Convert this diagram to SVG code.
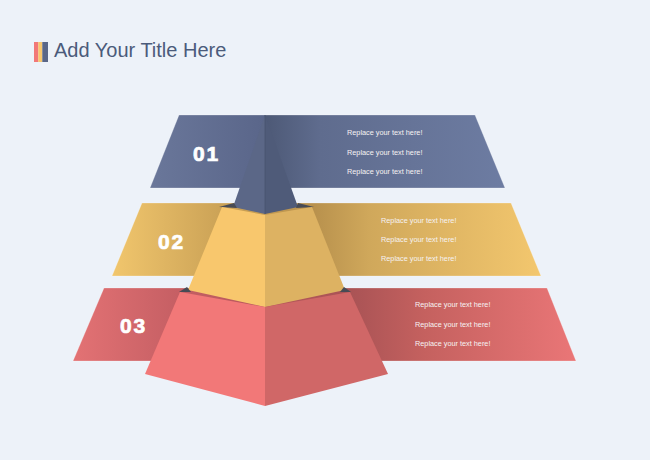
<svg xmlns="http://www.w3.org/2000/svg" width="650" height="460" viewBox="0 0 650 460">
<defs>
<style>
.num{font-family:"Liberation Sans",Arial,sans-serif;font-weight:bold;font-size:21px;fill:#ffffff;stroke:#ffffff;stroke-width:0.7px;letter-spacing:1.8px}
.txt{font-family:"Liberation Sans",Arial,sans-serif;font-size:7.3px;fill:#f6f2f2}
.edge{stroke:#ffffff;stroke-opacity:0.25;stroke-width:1}
.shade{fill:#474b55}
</style>
<linearGradient id="g1" gradientUnits="userSpaceOnUse" x1="150" y1="0" x2="505" y2="0">
<stop offset="0" stop-color="#6a779a"/>
<stop offset="0.32" stop-color="#5a668a"/>
<stop offset="0.325" stop-color="#4d5976"/>
<stop offset="0.48" stop-color="#5f6c8e"/>
<stop offset="1" stop-color="#6d7ca2"/>
</linearGradient>
<linearGradient id="g2" gradientUnits="userSpaceOnUse" x1="112" y1="0" x2="541" y2="0">
<stop offset="0" stop-color="#f1c66d"/>
<stop offset="0.25" stop-color="#cca357"/>
<stop offset="0.47" stop-color="#b8914d"/>
<stop offset="0.6" stop-color="#d0a85b"/>
<stop offset="1" stop-color="#f3c76e"/>
</linearGradient>
<linearGradient id="g3" gradientUnits="userSpaceOnUse" x1="73" y1="0" x2="576" y2="0">
<stop offset="0" stop-color="#e37274"/>
<stop offset="0.22" stop-color="#c45e63"/>
<stop offset="0.55" stop-color="#a95355"/>
<stop offset="0.7" stop-color="#c5615f"/>
<stop offset="1" stop-color="#ea7677"/>
</linearGradient>
</defs>
<rect width="650" height="460" fill="#edf2f9"/>

<g id="title">
<rect x="34" y="42" width="4.3" height="20" fill="#f27878"/>
<rect x="38.3" y="42" width="4" height="20" fill="#f8c76d"/>
<rect x="42.3" y="42" width="5.7" height="20" fill="#5a6788"/>
<text x="54" y="57" font-family="Liberation Sans, Arial, sans-serif" font-size="20" fill="#4b5b7b">Add Your Title Here</text>
</g>

<g id="layer3-band">
<polygon class="edge" points="104,288 547,288 576,361 73,361" fill="url(#g3)"/>
<text class="num" x="120" y="333">03</text>
<text class="txt" x="415" y="307">Replace your text here!</text>
<text class="txt" x="415" y="327">Replace your text here!</text>
<text class="txt" x="415" y="346">Replace your text here!</text>
</g>

<g id="layer2-band">
<polygon class="edge" points="142,203 511,203 541,276 112,276" fill="url(#g2)"/>
<text class="num" x="158" y="249">02</text>
<text class="txt" x="381" y="223">Replace your text here!</text>
<text class="txt" x="381" y="242">Replace your text here!</text>
<text class="txt" x="381" y="261">Replace your text here!</text>
</g>

<g id="layer1-band">
<polygon class="edge" points="179,115 475,115 505,188 150,188" fill="url(#g1)"/>
<text class="num" x="193" y="161">01</text>
<text class="txt" x="347" y="135">Replace your text here!</text>
<text class="txt" x="347" y="155">Replace your text here!</text>
<text class="txt" x="347" y="174">Replace your text here!</text>
</g>

<g id="pyramid-top">
<polygon points="265,115 233,207 265,214" fill="#5b6787"/>
<polygon points="265,115 265,214 298,207" fill="#4f5b79"/>
<line x1="265" y1="115" x2="265" y2="214" stroke="#48536e" stroke-width="0.8"/>
</g>

<g id="pyramid-middle">
<polygon class="shade" points="219,207 234,203 237,208"/>
<polygon class="shade" points="296,208 298,203 314,207"/>
<polygon points="222,207 265,215 265,307 188,290" fill="#f8c76d"/>
<polygon points="265,215 312,207 345,290 265,307" fill="#ddb262"/>
</g>

<g id="pyramid-bottom">
<polygon class="shade" points="179,292 187,287 191,292"/>
<polygon class="shade" points="340,292 344,287 351,292"/>
<polygon points="180,292 265,307 265,406 145,374" fill="#f27878"/>
<polygon points="265,307 350,292 388,374 265,406" fill="#d06767"/>
</g>
</svg>
